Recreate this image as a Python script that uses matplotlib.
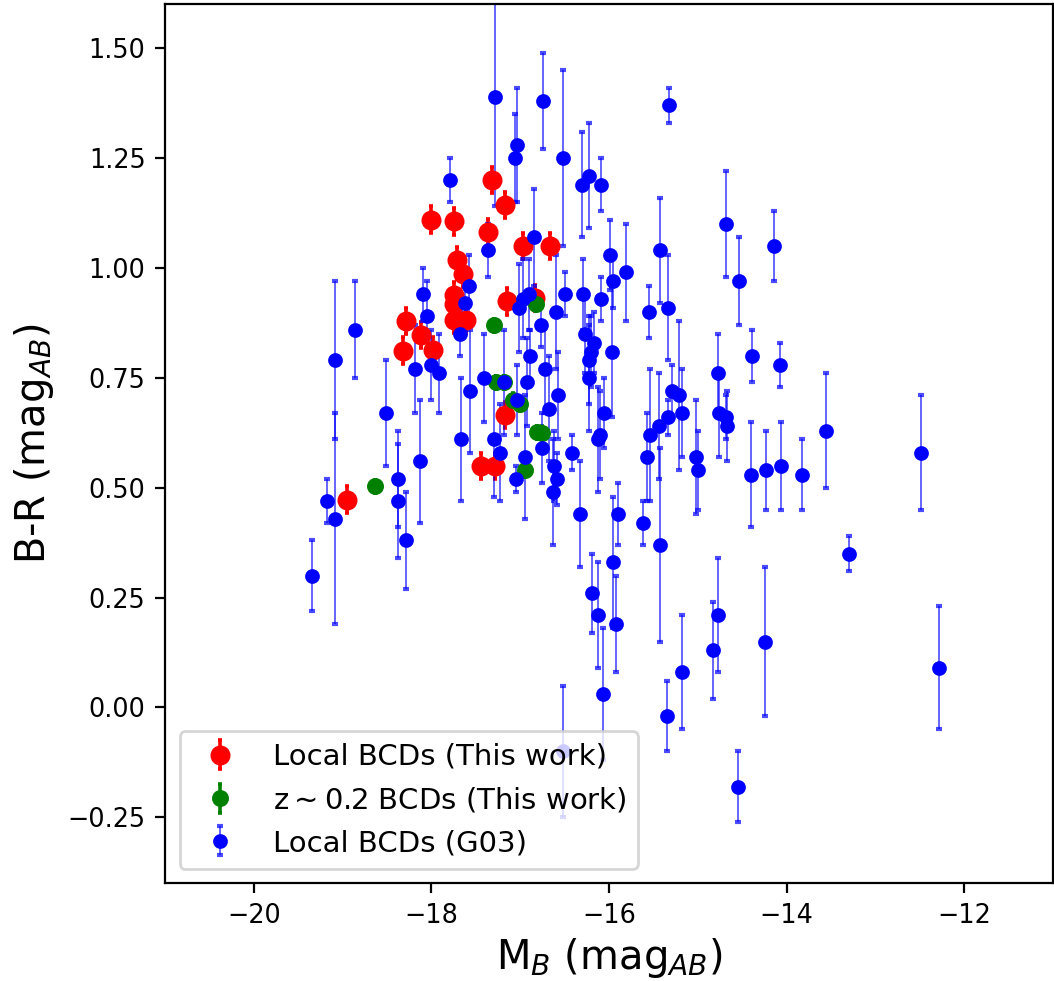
import matplotlib
matplotlib.use("Agg")
import matplotlib.pyplot as plt

# Local BCDs (This work)
red_mb = [-17.32, -17.17, -18.00, -17.74, -17.36, -16.97, -16.66, -17.71, -17.64,
          -17.75, -17.75, -17.75, -17.61, -17.15, -16.83, -18.28, -18.12, -18.32,
          -17.98, -17.17, -17.44, -17.28, -18.95]
red_br = [1.200, 1.143, 1.110, 1.106, 1.082, 1.050, 1.050, 1.018, 0.986,
          0.938, 0.919, 0.882, 0.882, 0.924, 0.932, 0.879, 0.847, 0.812,
          0.814, 0.666, 0.550, 0.550, 0.473]
red_err = [0.03] * len(red_mb)

# z~0.2 BCDs (This work)
green_mb = [-18.64, -17.30, -17.27, -17.18, -17.08, -17.00, -16.81, -16.75, -16.95, -16.82]
green_br = [0.503, 0.870, 0.740, 0.740, 0.700, 0.690, 0.626, 0.625, 0.540, 0.917]
green_err = [0.015] * len(green_mb)

# Local BCDs (G03)
blue_mb = [-17.28, -16.74, -17.04, -17.06, -17.79, -16.52, -16.84, -17.36, -16.30, -16.22,
           -16.09, -15.32, -15.99, -15.95, -15.81, -15.42, -14.68, -14.54, -14.14, -16.29,
           -16.09, -15.55, -15.34, -16.27, -16.17, -16.20, -16.23, -16.22, -15.97, -14.77,
           -14.39, -14.07, -15.29, -15.21, -15.18, -15.34, -15.44, -15.54, -16.06, -16.10,
           -16.12, -14.76, -14.68, -14.67, -13.56, -12.49, -15.57, -15.02, -15.00, -14.40,
           -14.23, -14.06, -13.83, -13.30, -12.28, -16.33, -15.90, -15.62, -15.43, -15.95,
           -16.19, -16.12, -15.92, -16.07, -15.35, -15.18, -14.83, -14.77, -14.24, -14.55,
           -17.29, -17.23, -16.94, -17.05, -16.75, -16.68, -16.57, -16.62, -16.59, -16.63,
           -16.42, -19.08, -19.09, -19.34, -19.18, -18.38, -18.38, -18.28, -18.13, -18.51,
           -17.67, -17.56, -17.58, -17.62, -17.68, -18.09, -18.05, -18.18, -18.00, -17.91,
           -18.86, -17.41, -17.18, -17.01, -16.97, -16.90, -16.77, -16.60, -16.49, -16.89,
           -16.72, -16.92, -17.03, -16.52]
blue_br = [1.39, 1.38, 1.28, 1.25, 1.20, 1.25, 1.07, 1.04, 1.19, 1.21,
           1.19, 1.37, 1.03, 0.97, 0.99, 1.04, 1.10, 0.97, 1.05, 0.94,
           0.93, 0.90, 0.91, 0.85, 0.83, 0.81, 0.79, 0.75, 0.81, 0.76,
           0.80, 0.78, 0.72, 0.71, 0.67, 0.66, 0.64, 0.62, 0.67, 0.62,
           0.61, 0.67, 0.66, 0.64, 0.63, 0.58, 0.57, 0.57, 0.54, 0.53,
           0.54, 0.55, 0.53, 0.35, 0.09, 0.44, 0.44, 0.42, 0.37, 0.33,
           0.26, 0.21, 0.19, 0.03, -0.02, 0.08, 0.13, 0.21, 0.15, -0.18,
           0.61, 0.58, 0.57, 0.52, 0.59, 0.68, 0.71, 0.55, 0.52, 0.49,
           0.58, 0.43, 0.79, 0.30, 0.47, 0.52, 0.47, 0.38, 0.56, 0.67,
           0.61, 0.72, 0.96, 0.92, 0.85, 0.94, 0.89, 0.77, 0.78, 0.76,
           0.86, 0.75, 0.74, 0.91, 0.93, 0.94, 0.87, 0.90, 0.94, 0.80,
           0.77, 0.74, 0.70, -0.10]
blue_err = [0.25, 0.11, 0.13, 0.10, 0.05, 0.20, 0.11, 0.06, 0.12, 0.12,
            0.06, 0.04, 0.08, 0.06, 0.11, 0.12, 0.12, 0.10, 0.08, 0.08,
            0.05, 0.06, 0.12, 0.09, 0.07, 0.08, 0.10, 0.12, 0.15, 0.09,
            0.06, 0.05, 0.06, 0.17, 0.10, 0.04, 0.12, 0.15, 0.08, 0.10,
            0.12, 0.10, 0.05, 0.08, 0.13, 0.13, 0.10, 0.13, 0.09, 0.12,
            0.09, 0.10, 0.08, 0.04, 0.14, 0.12, 0.07, 0.05, 0.22, 0.15,
            0.09, 0.12, 0.11, 0.15, 0.08, 0.13, 0.11, 0.13, 0.17, 0.08,
            0.13, 0.11, 0.14, 0.03, 0.08, 0.12, 0.10, 0.08, 0.06, 0.12,
            0.04, 0.24, 0.18, 0.08, 0.05, 0.11, 0.13, 0.11, 0.14, 0.12,
            0.14, 0.14, 0.07, 0.06, 0.05, 0.06, 0.08, 0.10, 0.08, 0.09,
            0.11, 0.10, 0.12, 0.10, 0.09, 0.08, 0.05, 0.13, 0.05, 0.06,
            0.10, 0.10, 0.08, 0.15]

fig = plt.figure(figsize=(5.27, 4.905), dpi=200)
ax = fig.add_axes([0.1565, 0.0996, 0.8425, 0.896])

ax.errorbar(red_mb, red_br, yerr=red_err, fmt='o', color='red', ms=6.2,
            elinewidth=1.3, capsize=0.8, capthick=1.3, label='Local BCDs (This work)')
ax.errorbar(green_mb, green_br, yerr=green_err, fmt='o', color='green', ms=5.1,
            elinewidth=1.3, capsize=0.8, capthick=1.3, label=r'z$\sim$0.2 BCDs (This work)')
ax.errorbar(blue_mb, blue_br, yerr=blue_err, fmt='o', color='blue', ms=4.3,
            ecolor=(0, 0, 1, 0.7), elinewidth=0.6, capsize=1.1, capthick=1.5,
            label='Local BCDs (G03)')

ax.set_xlim(-21, -11)
ax.set_ylim(-0.4, 1.6)
ax.set_yticks([-0.25, 0.0, 0.25, 0.5, 0.75, 1.0, 1.25, 1.5])
ax.set_xticks([-20, -18, -16, -14, -12])
ax.tick_params(labelsize=9.2)
ax.set_xlabel(r'M$_B$ (mag$_{AB}$)', fontsize=14.4, labelpad=2.5)
ax.set_ylabel(r'B-R (mag$_{AB}$)', fontsize=14.4)
ax.legend(loc='lower left', fontsize=10.5)

fig.savefig('out.png', dpi=200)
